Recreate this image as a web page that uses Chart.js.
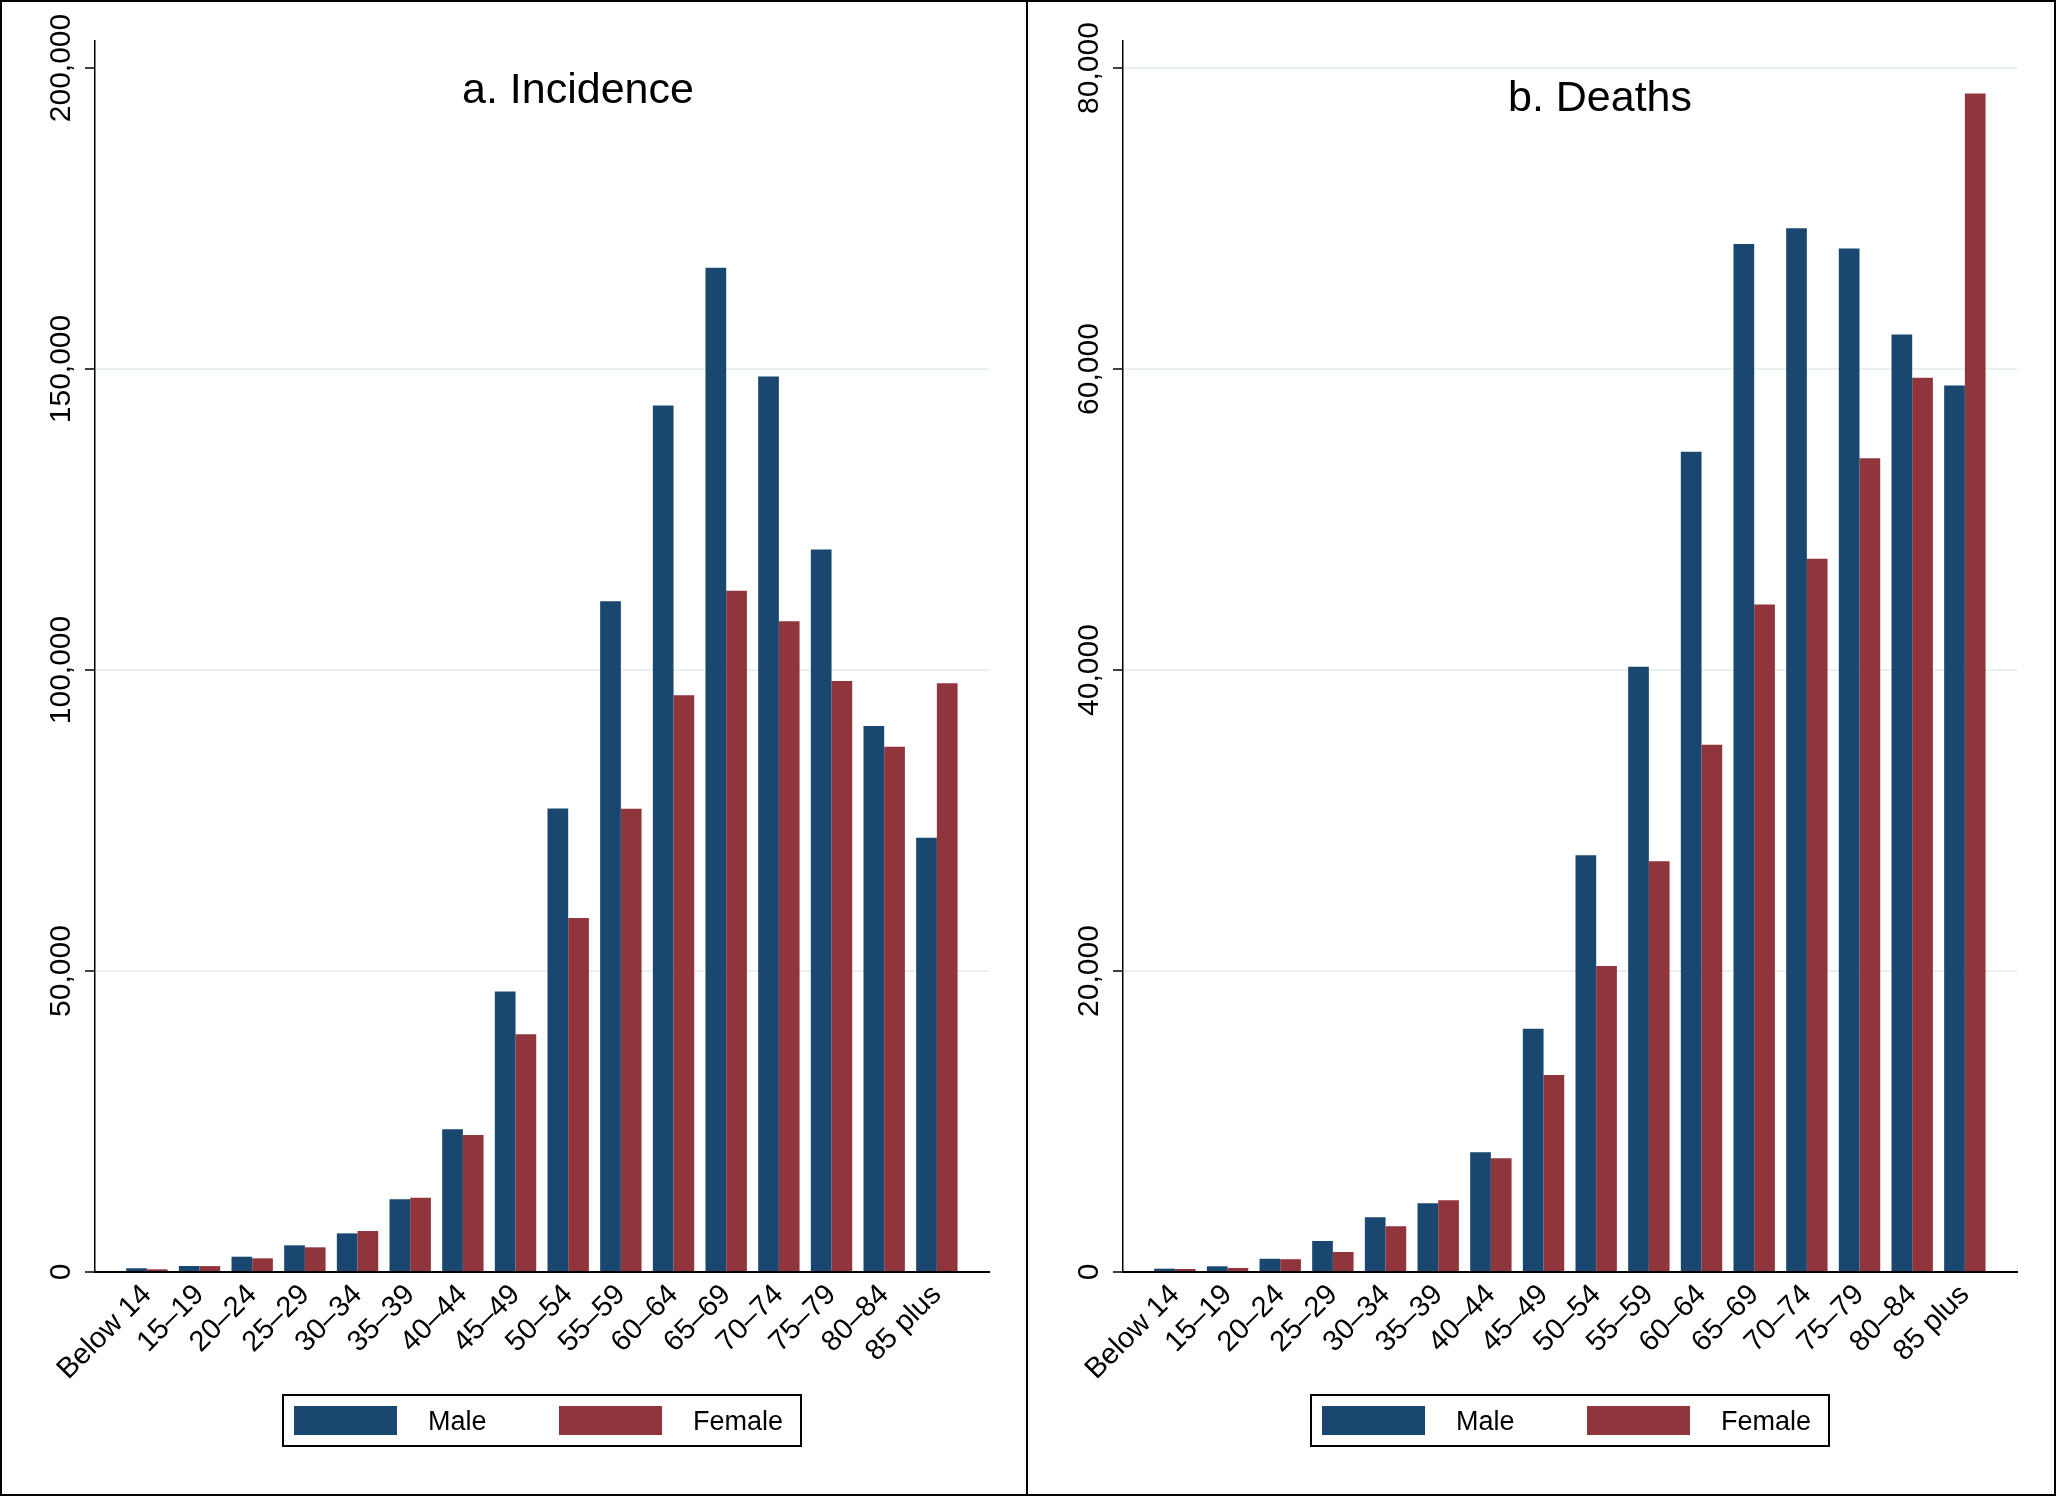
<!DOCTYPE html>
<html>
<head>
<meta charset="utf-8">
<script src="https://cdn.jsdelivr.net/npm/chart.js@4.4.1/dist/chart.umd.min.js"></script>
<style>
  body { margin: 0; background: #fff; }
  #wrap { position: relative; width: 2056px; height: 1496px; background: #fff; }
  .panel { position: absolute; top: 0; width: 1028px; height: 1496px; }
  #frame { position: absolute; left: 0; top: 0; width: 2056px; height: 1496px; box-sizing: border-box; border: 2px solid #000; pointer-events: none; }
  #divider { position: absolute; left: 1026px; top: 0; width: 2px; height: 1496px; background: #000; }
</style>
</head>
<body>
<div id="wrap">
  <div class="panel" style="left:0"><canvas id="grafico-incidencia"></canvas></div>
  <div class="panel" style="left:1028px"><canvas id="grafico-obitos"></canvas></div>
  <div id="divider"></div>
  <div id="frame"></div>
</div>
<script>
// dados
const ageGroups = ['Below 14', '15\u201319', '20\u201324', '25\u201329', '30\u201334', '35\u201339', '40\u201344', '45\u201349',
    '50\u201354', '55\u201359', '60\u201364', '65\u201369', '70\u201374', '75\u201379', '80\u201384', '85 plus'];
const seriesNames = ['Male', 'Female'];

const incidenceMale = [620, 1000, 2540, 4430, 6420, 12070, 23700, 46600, 77000, 111400, 143950, 166800, 148750, 120000, 90700, 72150];
const incidenceFemale = [450, 980, 2270, 4100, 6810, 12350, 22750, 39480, 58800, 76960, 95800, 113150, 108100, 98170, 87250, 97800];
const incidenceTicks = [0, 50000, 100000, 150000, 200000];

const deathsMale = [220, 380, 880, 2060, 3630, 4570, 7950, 16170, 27690, 40220, 54500, 68300, 69360, 68000, 62300, 58910];
const deathsFemale = [200, 270, 850, 1330, 3040, 4760, 7560, 13090, 20330, 27300, 35030, 44350, 47400, 54070, 59420, 78300];
const deathsTicks = [0, 20000, 40000, 60000, 80000];

const FONTE = '"Liberation Sans", Arial, Helvetica, sans-serif';
Chart.defaults.font.family = FONTE;
Chart.defaults.color = '#000';

// titulo dentro da area do grafico
const tituloPainel = {
    id: 'tituloPainel',
    afterDraw(chart, args, opts) {
        const ctx = chart.ctx;
        ctx.save();
        ctx.font = '43px ' + FONTE;
        ctx.fillStyle = '#000';
        ctx.textAlign = 'center';
        ctx.textBaseline = 'alphabetic';
        ctx.fillText(opts.text, opts.x, opts.y);
        ctx.restore();
    }
};

// rotulos do eixo y na vertical, centrados no tick
const rotulosY = {
    id: 'rotulosY',
    afterDraw(chart) {
        const ctx = chart.ctx;
        const y = chart.scales.y;
        ctx.save();
        ctx.font = '30px ' + FONTE;
        ctx.fillStyle = '#000';
        ctx.textAlign = 'center';
        ctx.textBaseline = 'alphabetic';
        y.ticks.forEach(t => {
            ctx.save();
            ctx.translate(70, y.getPixelForValue(t.value));
            ctx.rotate(-Math.PI / 2);
            ctx.fillText(t.value.toLocaleString('en-US'), 0, 0);
            ctx.restore();
        });
        ctx.restore();
    }
};

// legenda com moldura, abaixo do eixo x
const legendaCaixa = {
    id: 'legendaCaixa',
    afterDraw(chart) {
        const ctx = chart.ctx;
        const area = chart.chartArea;
        const cx = (area.left + area.right) / 2;
        const left = cx - 259, top = 1395;
        ctx.save();
        ctx.strokeStyle = '#000';
        ctx.lineWidth = 2;
        ctx.strokeRect(left, top, 518, 51);
        ctx.font = '27px ' + FONTE;
        ctx.textBaseline = 'alphabetic';
        ctx.textAlign = 'left';
        chart.data.datasets.forEach((ds, i) => {
            const sx = left + 11 + i * 265;
            ctx.fillStyle = ds.backgroundColor;
            ctx.fillRect(sx, 1406, 103, 29);
            ctx.fillStyle = '#000';
            ctx.fillText(ds.label, sx + 134, 1430);
        });
        ctx.restore();
    }
};

function montarPainel(id, titulo, tituloX, tituloY, masc, fem, ticks, yMax, semGradeTopo) {
    const ctx = document.getElementById(id).getContext('2d');
    return new Chart(ctx, {
        type: 'bar',
        data: {
            datasets: [
                {
                    label: seriesNames[0],
                    data: ageGroups.map((g, i) => ({ x: i, y: masc[i] })),
                    backgroundColor: '#1a476f'
                },
                {
                    label: seriesNames[1],
                    data: ageGroups.map((g, i) => ({ x: i, y: fem[i] })),
                    backgroundColor: '#90353b'
                }
            ]
        },
        options: {
            responsive: true,
            maintainAspectRatio: false,
            animation: false,
            categoryPercentage: 0.786,
            barPercentage: 1.0,
            layout: { padding: { top: 41, right: 39, left: 0, bottom: 0 } },
            scales: {
                x: {
                    type: 'linear',
                    min: -0.985,
                    max: 15.99,
                    offset: false,
                    afterBuildTicks: scale => {
                        scale.ticks = ageGroups.map((g, i) => ({ value: i }));
                    },
                    afterFit: scale => { scale.height = 224; },
                    ticks: {
                        autoSkip: false,
                        minRotation: 45,
                        maxRotation: 45,
                        padding: 6,
                        font: { size: 29 },
                        color: '#000',
                        callback: v => ageGroups[v]
                    },
                    grid: { display: false, drawTicks: false, offset: false },
                    border: { display: true, color: '#000', width: 2 }
                },
                y: {
                    min: 0,
                    max: yMax,
                    afterBuildTicks: scale => {
                        scale.ticks = ticks.map(v => ({ value: v }));
                    },
                    afterFit: scale => { scale.width = 95; },
                    ticks: { display: false },
                    grid: {
                        color: c => (c.tick && (c.tick.value === 0 || (semGradeTopo && c.tick.value === ticks[ticks.length - 1])))
                            ? 'rgba(0,0,0,0)' : '#e8f0f2',
                        lineWidth: 2,
                        drawTicks: true,
                        tickLength: 10,
                        tickColor: '#000',
                        tickWidth: 1.5
                    },
                    border: { display: true, color: '#000', width: 1.5 }
                }
            },
            plugins: {
                legend: { display: false },
                tooltip: { enabled: false },
                tituloPainel: { text: titulo, x: tituloX, y: tituloY }
            }
        },
        plugins: [tituloPainel, rotulosY, legendaCaixa]
    });
}

montarPainel('grafico-incidencia', 'a. Incidence', 578, 103, incidenceMale, incidenceFemale, incidenceTicks, 204485, true);
montarPainel('grafico-obitos', 'b. Deaths', 572, 111, deathsMale, deathsFemale, deathsTicks, 81794, false);
</script>
</body>
</html>
